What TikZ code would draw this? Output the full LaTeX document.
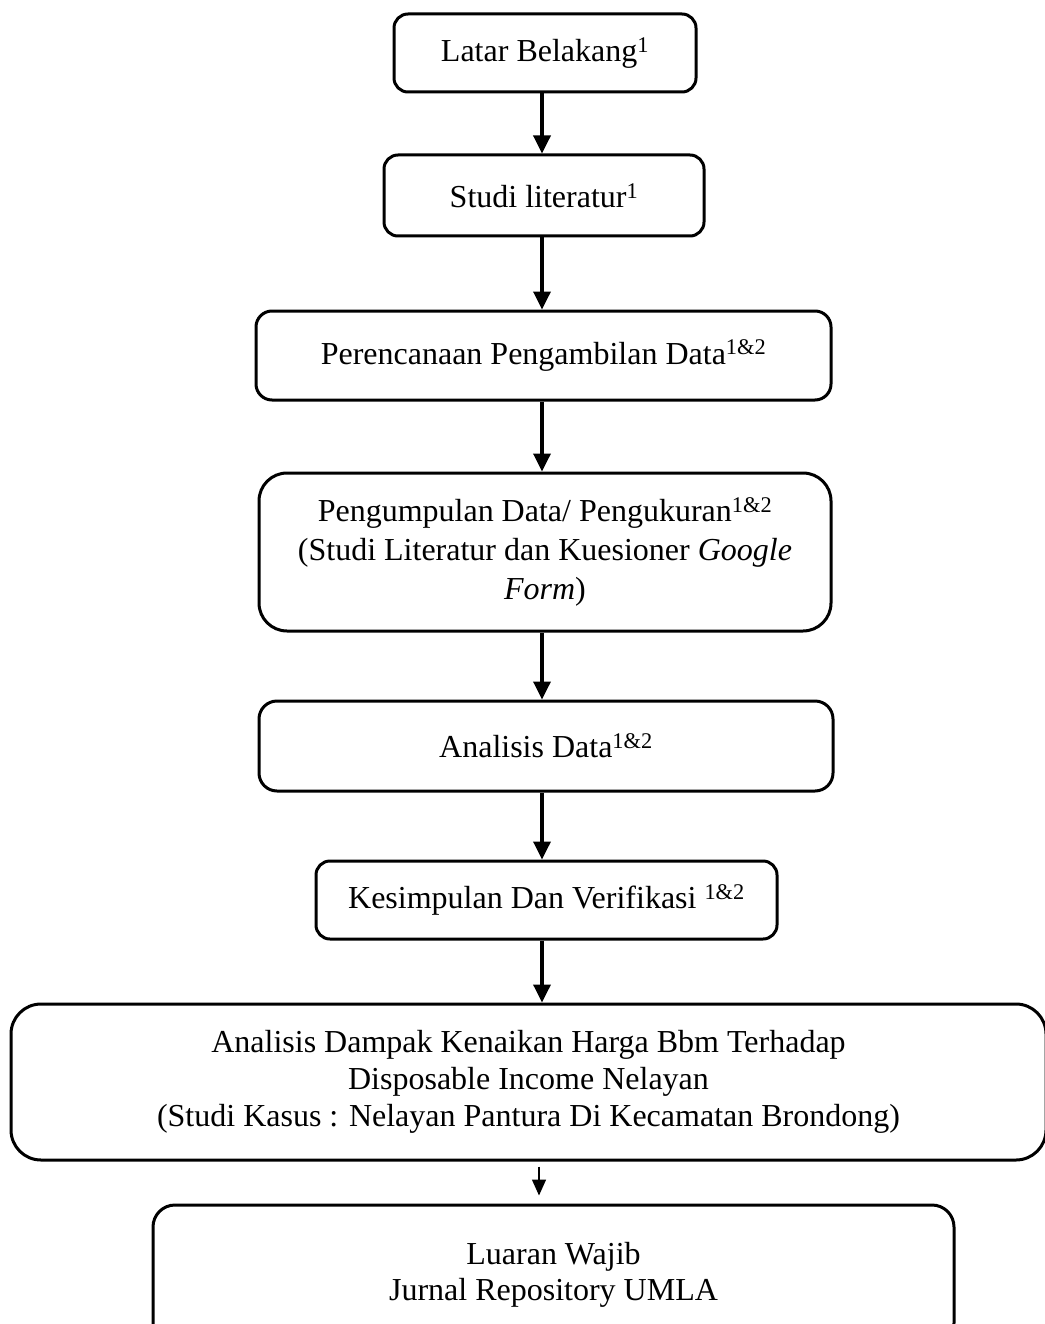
\documentclass[tikz,border=0pt]{standalone}
\usepackage{fontspec}
\setmainfont{Liberation Serif}
\usetikzlibrary{arrows.meta}

\tikzset{
  langkah/.style={draw, line width=3pt, rounded corners=14pt, align=center, inner sep=0pt,
    font=\fontsize{32}{39}\selectfont},
  panah/.style={line width=3.5pt, -{Triangle[width=17pt,length=18pt]}},
  panahkecil/.style={line width=1.5pt, -{Triangle[width=14pt,length=16pt]}, shorten <=5pt, shorten >=8pt}
}
\newcommand{\angka}[1]{\textsuperscript{#1}}

\begin{document}
\begin{tikzpicture}[x=1pt,y=-1pt]
\useasboundingbox (0,0) rectangle (1044,1324);
\coordinate (sumbu) at (542,0);
\coordinate (sumbukecil) at (539,0);

\node[langkah, minimum width=302pt, minimum height=78pt] (latar) at (545,53) {Latar Belakang\angka{1}};
\node[langkah, minimum width=320pt, minimum height=81pt] (studi) at (544,195.5) {Studi literatur\angka{1}};
\node[langkah, minimum width=575pt, minimum height=89pt, rounded corners=16pt] (rencana) at (543.5,355.5) {Perencanaan Pengambilan Data\angka{1\&2}};
\node[langkah, minimum width=572pt, minimum height=158pt, rounded corners=28pt] (kumpul) at (545,552)
  {Pengumpulan Data/ Pengukuran\angka{1\&2}\\(Studi Literatur dan Kuesioner \textit{Google}\\\textit{Form})};
\node[langkah, minimum width=574pt, minimum height=90pt, rounded corners=18pt] (analisis) at (546,746) {Analisis Data\angka{1\&2}};
\node[langkah, minimum width=461pt, minimum height=78pt] (simpul) at (546.5,900) {Kesimpulan Dan Verifikasi \angka{1\&2}};
\node[langkah, minimum width=1035pt, minimum height=156pt, rounded corners=30pt, font=\fontsize{32}{37}\selectfont] (judul) at (528.5,1082)
  {Analisis Dampak Kenaikan Harga Bbm Terhadap\\
   Disposable Income Nelayan\\
   (Studi Kasus : Nelayan Pantura Di Kecamatan Brondong)};
\node[langkah, minimum width=801pt, minimum height=140pt, rounded corners=22pt, font=\fontsize{32}{36}\selectfont] (luaran) at (553.5,1275)
  {Luaran Wajib\\Jurnal Repository UMLA};

\draw[panah] (latar.south -| sumbu) -- (studi.north -| sumbu);
\draw[panah] (studi.south -| sumbu) -- (rencana.north -| sumbu);
\draw[panah] (rencana.south -| sumbu) -- (kumpul.north -| sumbu);
\draw[panah] (kumpul.south -| sumbu) -- (analisis.north -| sumbu);
\draw[panah] (analisis.south -| sumbu) -- (simpul.north -| sumbu);
\draw[panah] (simpul.south -| sumbu) -- (judul.north -| sumbu);
\draw[panahkecil] (judul.south -| sumbukecil) -- (luaran.north -| sumbukecil);
\end{tikzpicture}
\end{document}
